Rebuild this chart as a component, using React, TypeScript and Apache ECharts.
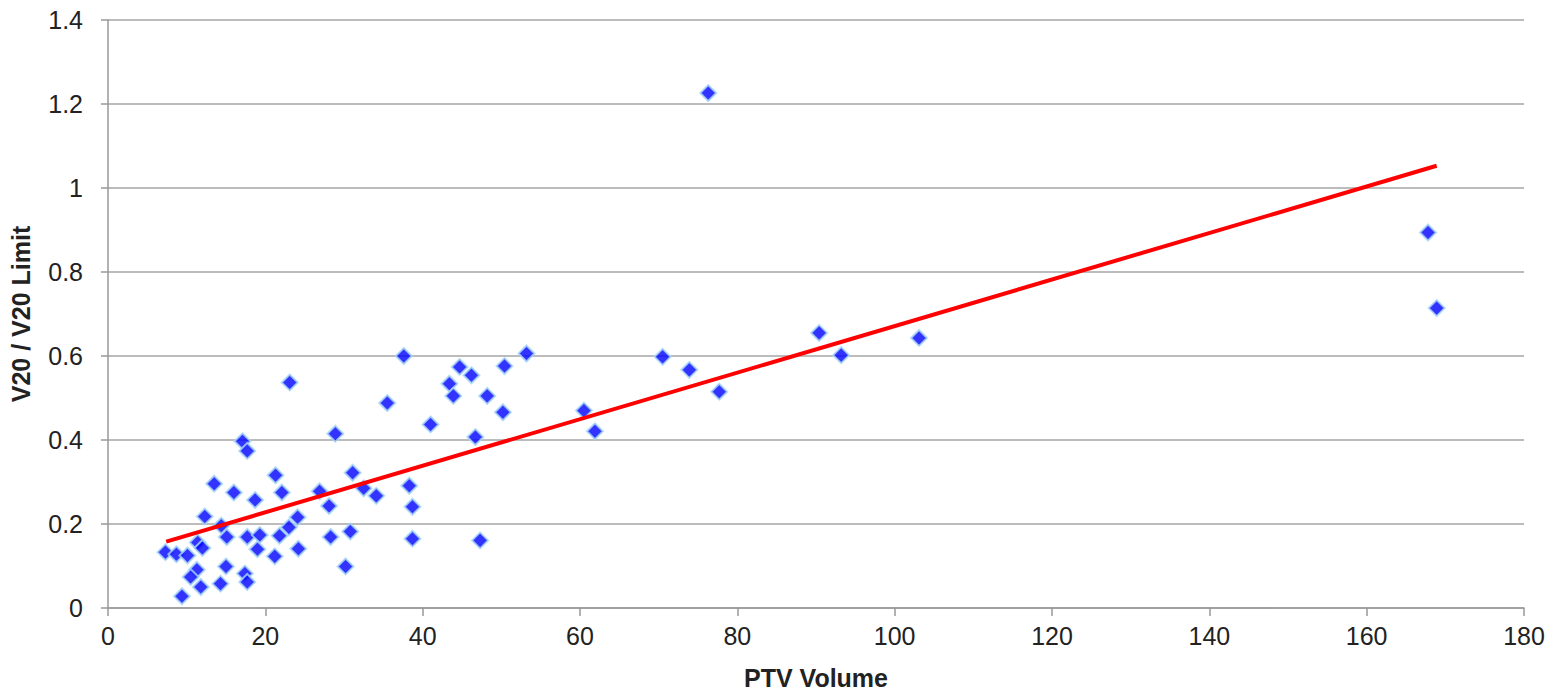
import React, { useEffect, useRef } from "react";
import * as echarts from "echarts";

const ptvVolume = [
  23.1, 17.1, 17.7, 28.9, 31.1, 13.5, 16.0, 18.7, 21.3, 22.1,
  26.9, 28.1, 12.3, 14.4, 15.1, 17.7, 19.3, 21.8, 23.0, 24.1,
  28.3, 30.8, 7.3, 8.7, 10.1, 11.4, 12.0, 19.0, 21.2, 24.2,
  11.3, 10.5, 15.0, 17.4, 17.7, 11.8, 14.3, 9.4, 30.2,
  37.6, 44.7, 46.2, 43.4, 43.9, 48.2, 50.4, 53.2, 50.2, 35.5,
  41.0, 46.7, 32.5, 34.1, 38.3, 38.7, 38.7, 47.3,
  60.5, 61.9, 70.5, 73.9, 77.7, 90.4, 93.2, 103.1, 76.3, 167.8, 168.9,
];
const v20Ratio = [
  0.537, 0.397, 0.374, 0.415, 0.322, 0.296, 0.275, 0.257, 0.316, 0.275,
  0.278, 0.243, 0.218, 0.196, 0.169, 0.169, 0.174, 0.172, 0.192, 0.216,
  0.169, 0.182, 0.133, 0.128, 0.125, 0.156, 0.143, 0.140, 0.123, 0.141,
  0.091, 0.074, 0.099, 0.082, 0.062, 0.050, 0.058, 0.028, 0.099,
  0.600, 0.574, 0.554, 0.534, 0.505, 0.505, 0.576, 0.606, 0.466, 0.488,
  0.437, 0.407, 0.285, 0.267, 0.291, 0.241, 0.165, 0.161,
  0.470, 0.421, 0.598, 0.567, 0.515, 0.655, 0.602, 0.643, 1.226, 0.894, 0.714,
];
const trendX = [7.4, 168.9];
const trendY = [0.158, 1.053];
const xTicks = [0, 20, 40, 60, 80, 100, 120, 140, 160, 180];
const yTicks = [0, 0.2, 0.4, 0.6, 0.8, 1, 1.2, 1.4];

export default function App() {
  const ref = useRef<HTMLDivElement>(null);
  useEffect(() => {
    if (!ref.current) return;
    const chart = echarts.init(ref.current, null, { renderer: "svg" });
    const font = "'Liberation Sans', Arial, sans-serif";
    chart.setOption({
      animation: false,
      backgroundColor: "#ffffff",
      grid: { left: 107, top: 20, right: 31, bottom: 76, containLabel: false },
      xAxis: {
        type: "value",
        min: xTicks[0],
        max: xTicks[xTicks.length - 1],
        interval: 20,
        name: "PTV Volume",
        nameLocation: "middle",
        nameGap: 57,
        nameTextStyle: { fontFamily: font, fontSize: 25, fontWeight: "bold", color: "#222" },
        axisLine: { show: true, lineStyle: { color: "#999", width: 1.5 } },
        axisTick: { show: true, length: 8, lineStyle: { color: "#999", width: 1.5 } },
        axisLabel: { margin: 15, fontFamily: font, fontSize: 25, color: "#222" },
        splitLine: { show: false },
      },
      yAxis: {
        type: "value",
        min: yTicks[0],
        max: yTicks[yTicks.length - 1],
        interval: 0.2,
        name: "V20 / V20 Limit",
        nameLocation: "middle",
        nameGap: 75,
        nameTextStyle: { fontFamily: font, fontSize: 25, fontWeight: "bold", color: "#222" },
        axisLine: { show: true, lineStyle: { color: "#999", width: 1.5 } },
        axisTick: { show: true, length: 7, lineStyle: { color: "#999", width: 1.5 } },
        axisLabel: { margin: 25, fontFamily: font, fontSize: 25, color: "#222" },
        splitLine: { show: true, lineStyle: { color: "#a6a6a6", width: 1.5 } },
      },
      series: [
        {
          type: "scatter",
          data: ptvVolume.map((x, i) => [x, v20Ratio[i]]),
          symbol: "diamond",
          symbolSize: 16,
          itemStyle: { color: "#0000ff", borderColor: "#a8d8f8", borderWidth: 2 },
          z: 2,
        },
        {
          type: "line",
          data: trendX.map((x, i) => [x, trendY[i]]),
          showSymbol: false,
          symbol: "none",
          lineStyle: { color: "#ff0000", width: 4 },
          z: 3,
        },
      ],
    });
    return () => chart.dispose();
  }, []);
  return (
    <div
      ref={ref}
      style={{ position: "fixed", left: 0, top: 0, width: 1555, height: 695 }}
    />
  );
}
